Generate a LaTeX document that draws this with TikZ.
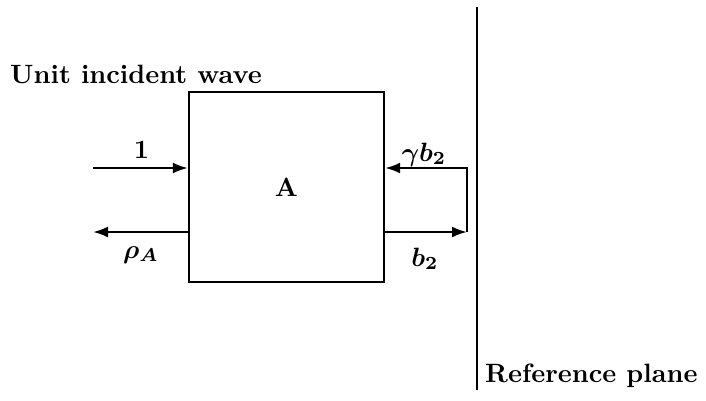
\documentclass[tikz,border=0pt]{standalone}
\usetikzlibrary{arrows.meta}
\newcommand{\bigtxt}[1]{\scalebox{2.65}{\bfseries\boldmath #1}}
\begin{document}
\begin{tikzpicture}[x=1pt,y=-1pt,
  wire/.style={line width=2.4pt},
  arr/.style={wire,-{Latex[length=15pt,width=11pt]}},
  lbl/.style={inner sep=0pt},
  blk/.style={draw,line width=2.2pt,minimum width=195pt,minimum height=190pt,inner sep=0pt}]
\useasboundingbox (0,0) rectangle (706,400);
\node[blk] (A) at (286.5,187) {\bigtxt{A}};
% reference plane
\coordinate (rpT) at (477,7);
\coordinate (rpB) at (477,390);
\draw[line width=1.8pt] (rpT) -- (rpB);
% left side
\coordinate (inL) at (93,168);
\coordinate (outL) at (93,232);
\coordinate (AinL) at (A.west |- inL);
\coordinate (AoutL) at (A.west |- outL);
\draw[arr] (inL) -- (AinL);
\draw[arr] (AoutL) -- (outL);
% right side loop
\coordinate (cTR) at (467,168);
\coordinate (cBR) at (467,232);
\coordinate (AinR) at (A.east |- cTR);
\coordinate (AoutR) at (A.east |- cBR);
\draw[arr] (AoutR) -- (cBR);
\draw[arr] (cBR) -- (cTR) -- (AinR);
% labels
\node[lbl,anchor=base west] (t1) at (10,83) {\bigtxt{Unit incident wave}};
\node[lbl,anchor=base west] (t2) at (485,382) {\bigtxt{Reference plane}};
\node[lbl,anchor=base] (l1) at (141.5,158) {\bigtxt{$1$}};
\node[lbl,anchor=base] (l2) at (141,258) {\bigtxt{$\rho_A$}};
\node[lbl,anchor=base] (l3) at (424,161) {\bigtxt{$\gamma b_2$}};
\node[lbl,anchor=base] (l4) at (425,266) {\bigtxt{$b_2$}};
\end{tikzpicture}
\end{document}
